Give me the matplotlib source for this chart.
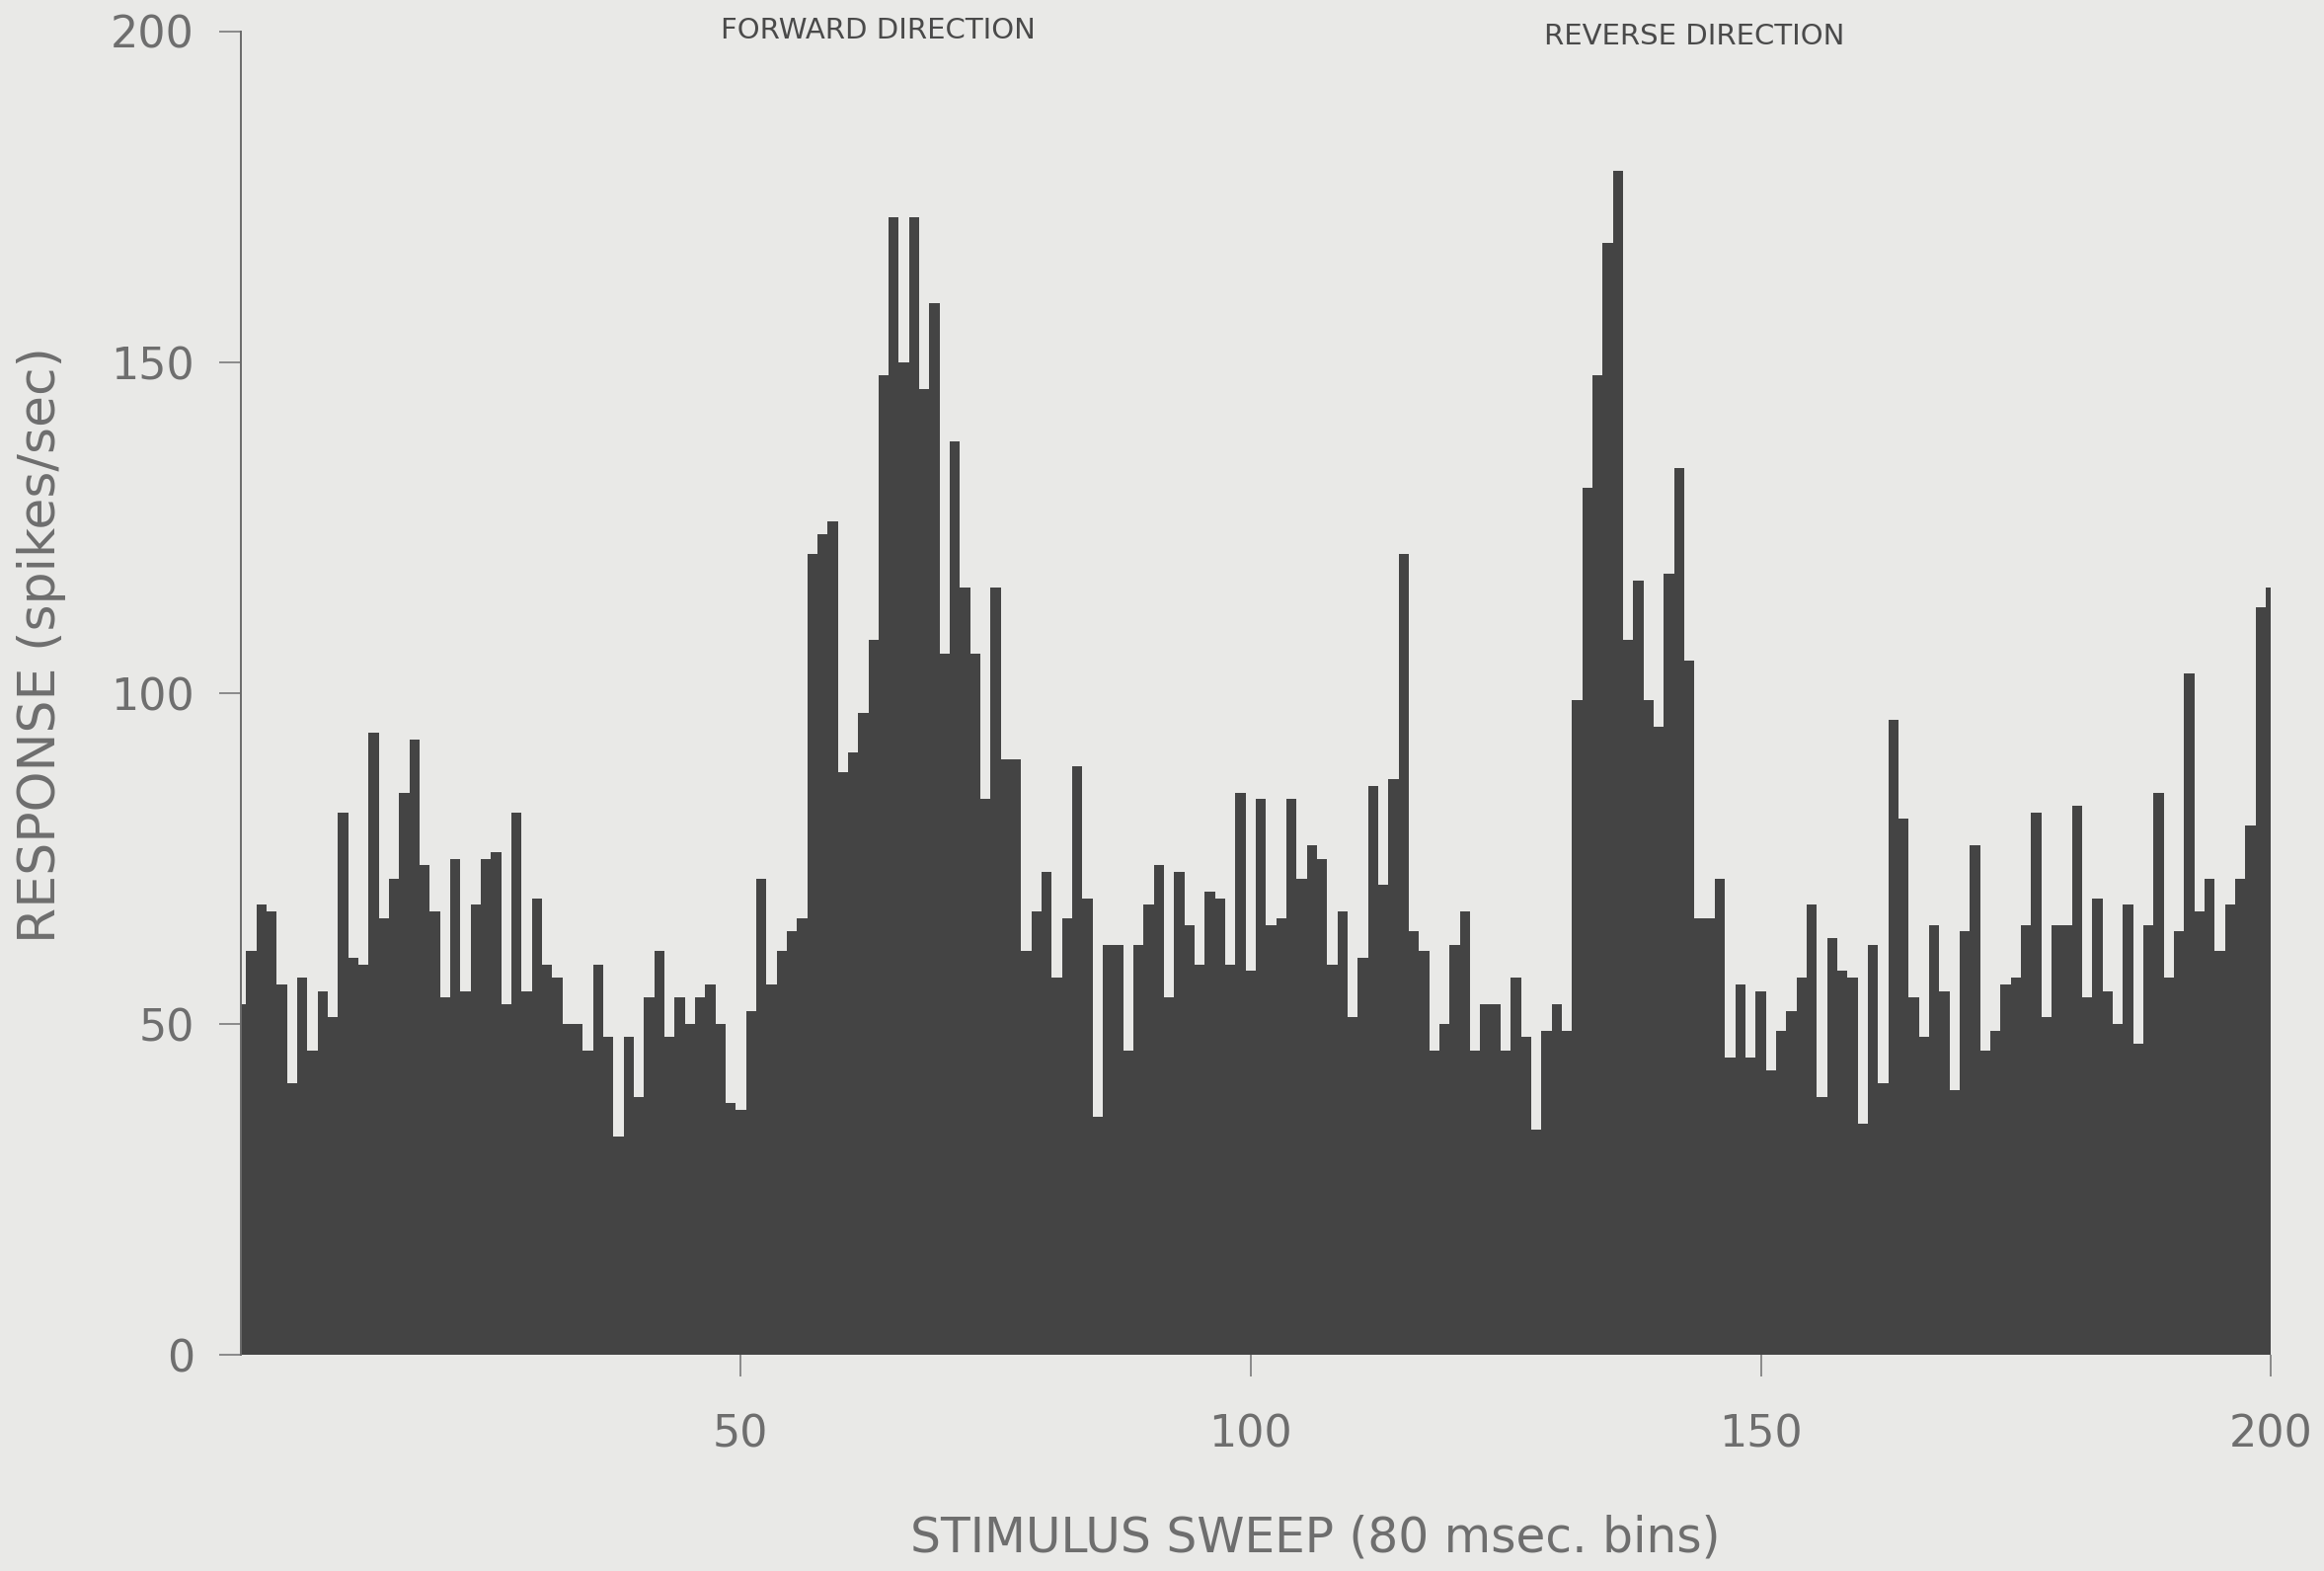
import numpy as np
import matplotlib
matplotlib.use("Agg")
import matplotlib.pyplot as plt

# Peri-stimulus histogram: response in each 80 msec bin across the sweep
bins = np.arange(1, 201)
response = [
    53, 61, 68, 67, 56, 41, 57, 46, 55, 51,
    82, 60, 59, 94, 66, 72, 85, 93, 74, 67,
    54, 75, 55, 68, 75, 76, 53, 82, 55, 69,
    59, 57, 50, 50, 46, 59, 48, 33, 48, 39,
    54, 61, 48, 54, 50, 54, 56, 50, 38, 37,
    52, 72, 56, 61, 64, 66, 121, 124, 126, 88,
    91, 97, 108, 148, 172, 150, 172, 146, 159, 106,
    138, 116, 106, 84, 116, 90, 90, 61, 67, 73,
    57, 66, 89, 69, 36, 62, 62, 46, 62, 68,
    74, 54, 73, 65, 59, 70, 69, 59, 85, 58,
    84, 65, 66, 84, 72, 77, 75, 59, 67, 51,
    60, 86, 71, 87, 121, 64, 61, 46, 50, 62,
    67, 46, 53, 53, 46, 57, 48, 34, 49, 53,
    49, 99, 131, 148, 168, 179, 108, 117, 99, 95,
    118, 134, 105, 66, 66, 72, 45, 56, 45, 55,
    43, 49, 52, 57, 68, 39, 63, 58, 57, 35,
    62, 41, 96, 81, 54, 48, 65, 55, 40, 64,
    77, 46, 49, 56, 57, 65, 82, 51, 65, 65,
    83, 54, 69, 55, 50, 68, 47, 65, 85, 57,
    64, 103, 67, 72, 61, 68, 72, 80, 113, 116,
]
x_ticks = [50, 100, 150, 200]
y_ticks = [0, 50, 100, 150, 200]
annotations = [("FORWARD DIRECTION", 63.5, 200.2), ("REVERSE DIRECTION", 143.5, 199.3)]

bg = "#e9e9e7"
bar_color = "#444444"
ink = "#6e6e6e"
font = ["DejaVu Sans"]

fig = plt.figure(figsize=(23.54, 15.91), dpi=100, facecolor=bg)
ax = fig.add_axes([0.1037, 0.1376, 0.8734, 0.8423])
ax.set_facecolor(bg)

edges = np.append(bins - 0.5, bins[-1] + 0.5)
ax.stairs(response, edges, fill=True, color=bar_color, baseline=0, linewidth=0)

ax.set_xlim(1, 200)
ax.set_ylim(0, 200)
for side in ("top", "right", "bottom"):
    ax.spines[side].set_visible(False)
ax.spines["left"].set_color("#6a6a6a")
ax.spines["left"].set_linewidth(1.4)

ax.set_xticks(x_ticks)
ax.set_yticks(y_ticks)
ax.tick_params(axis="both", direction="out", length=16, width=1.2, color="#7a7a7a",
               labelcolor=ink, labelsize=32)
ax.tick_params(axis="x", pad=27)
ax.tick_params(axis="y", pad=18)
for lab in ax.get_xticklabels() + ax.get_yticklabels():
    lab.set_family(font)

fig.text(42 / 2354, 1 - 653 / 1591, "RESPONSE (spikes/sec)", rotation=90,
         ha="center", va="center", fontsize=37.5, color=ink, family=font)
fig.text(1332 / 2354, 1 - 1557 / 1591, "STIMULUS SWEEP (80 msec. bins)",
         ha="center", va="center", fontsize=35, color=ink, family=font)

for label, xpos, ypos in annotations:
    ax.text(xpos, ypos, label, ha="center", va="center", fontsize=21,
            color="#4a4a4a", family=font)

fig.savefig("out.png", dpi=100, facecolor=bg)
